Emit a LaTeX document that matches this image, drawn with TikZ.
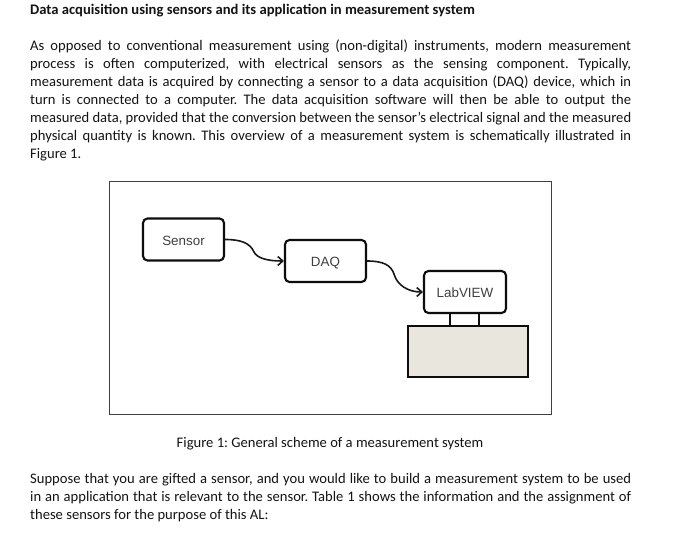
\documentclass[tikz,border=0pt]{standalone}
\usepackage{fontspec}
\setmainfont{Carlito}
\newfontfamily\figfont{Liberation Sans}
\usetikzlibrary{arrows.meta}
\definecolor{beige}{HTML}{E9E7DD}
\frenchspacing
\tikzset{
  x=1pt,y=-1pt,
  para/.style={anchor=north west,inner sep=0pt,text width=601pt,align=justify,font=\fontsize{14.6}{18}\selectfont,text=black!92},
  block/.style={draw=black!95,line width=2.1pt,rounded corners=4.5pt,fill=white,font=\figfont\fontsize{13.4}{15}\selectfont,text=black!75,inner sep=0pt,text height=11pt,text depth=0pt},
  link/.style={draw=black!90,line width=1.6pt,-{Straight Barb[length=5pt,width=9pt]}},
  leg/.style={draw=black!95,line width=1.8pt}
}
\begin{document}
\begin{tikzpicture}
\path[use as bounding box,fill=white] (0,0) rectangle (679,551);
\node[para,anchor=north west,font=\bfseries\fontsize{14.6}{18}\selectfont] (title) at (30,4) {Data acquisition using sensors and its application in measurement system};
\node[para] (intro) at (30,40) {As opposed to conventional measurement using (non-digital) instruments, modern measurement\linebreak
process is often computerized, with electrical sensors as the sensing component. Typically,\linebreak
measurement data is acquired by connecting a sensor to a data acquisition (DAQ) device, which in\linebreak
turn is connected to a computer. The data acquisition software will then be able to output the\linebreak
measured data, provided that the conversion between the sensor’s electrical signal and the measured\linebreak
physical quantity is known. This overview of a measurement system is schematically illustrated in\linebreak
Figure 1.};
\node[draw=black!75,line width=1pt,minimum width=442pt,minimum height=233pt,inner sep=0pt,anchor=north west] (frame) at (109,181) {};
\node[block,minimum width=81pt,minimum height=42pt] (sensor) at (183.5,239.5) {Sensor};
\node[block,minimum width=81pt,minimum height=42pt] (daq) at (325.5,261) {DAQ};
\node[block,minimum width=82pt,minimum height=42pt] (lab) at (465,292) {LabVIEW};
\node[draw=black!95,fill=beige,line width=2.2pt,minimum width=120pt,minimum height=51pt,inner sep=0pt] (pc) at (468,351.5) {};
\coordinate (l1) at (450,313);
\coordinate (l2) at (479,313);
\draw[leg] (l1) -- (l1 |- pc.north);
\draw[leg] (l2) -- (l2 |- pc.north);
\draw[link] (sensor.east) .. controls +(16,0) and +(-4,-9) .. (254,252) .. controls +(3,6) and +(-17,0) .. (daq.west);
\draw[link] (daq.east) .. controls +(16,0) and +(-3,-9) .. (394,274) .. controls +(3,11) and +(-15,0) .. (lab.west);
\node[font=\fontsize{14.6}{18}\selectfont,text=black!92,inner sep=0pt] (cap) at (330,444) {Figure 1: General scheme of a measurement system};
\node[para] (outro) at (30,473.5) {Suppose that you are gifted a sensor, and you would like to build a measurement system to be used\linebreak
in an application that is relevant to the sensor. Table 1 shows the information and the assignment of\linebreak
these sensors for the purpose of this AL:};
\end{tikzpicture}
\end{document}
